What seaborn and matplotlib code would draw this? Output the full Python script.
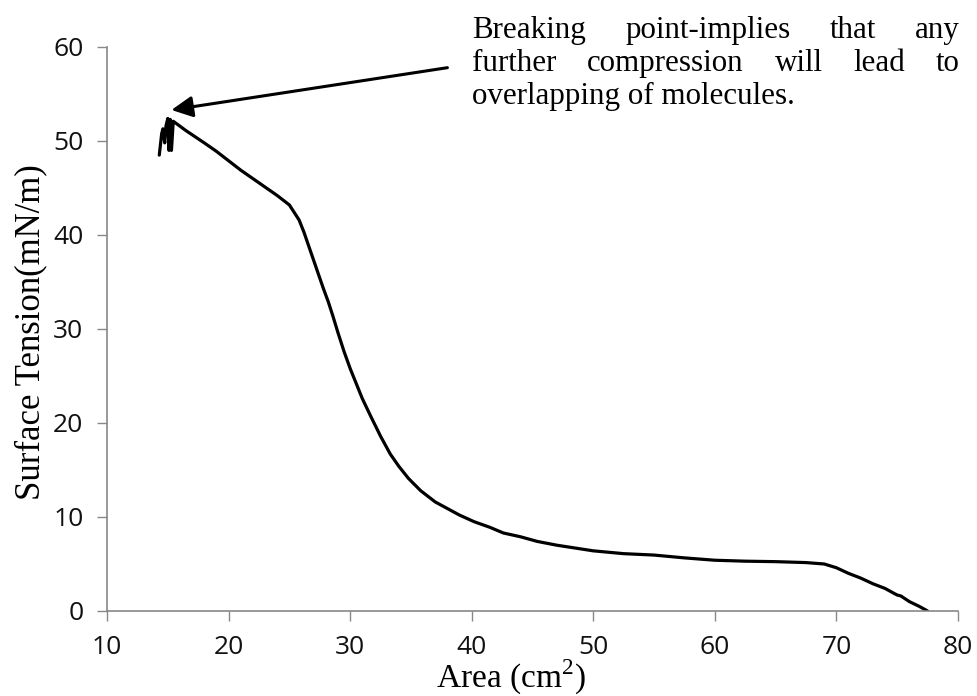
import numpy as np
import pandas as pd
import matplotlib
matplotlib.use("Agg")
import matplotlib.pyplot as plt
import seaborn as sns
from matplotlib import font_manager as fm

# ---- data ----
area = [14.3, 14.5, 14.6, 14.75, 14.85, 15.0, 15.1, 15.2, 15.3, 15.45, 16.5, 18.0, 19.0,
        20.0, 21.0, 22.0, 23.0, 24.0, 24.6, 25.0, 25.4, 25.8, 26.2, 26.6, 27.0, 27.4,
        27.8, 28.2, 28.6, 29.0, 29.5, 30.0, 30.5, 31.0, 31.7, 32.5, 33.3, 34.0, 34.8,
        35.8, 37.0, 38.0, 39.0, 40.2, 41.5, 42.6, 44.0, 45.4, 47.0, 48.5, 50.0, 52.5,
        55.0, 57.5, 60.0, 62.5, 65.0, 67.5, 69.0, 70.0, 71.0, 72.0, 73.0, 74.0, 74.7,
        75.0, 75.3, 76.0, 76.8, 77.5]
tension = [48.5, 50.8, 51.3, 49.8, 51.6, 52.4, 49.0, 52.3, 49.0, 52.1, 51.1, 49.8, 48.9,
           47.9, 46.9, 46.0, 45.1, 44.2, 43.6, 43.2, 42.4, 41.6, 40.3, 38.8, 37.3, 35.8,
           34.3, 32.9, 31.3, 29.6, 27.6, 25.8, 24.2, 22.6, 20.7, 18.6, 16.7, 15.4, 14.1,
           12.8, 11.6, 10.9, 10.2, 9.5, 8.9, 8.3, 7.9, 7.4, 7.0, 6.7, 6.4, 6.1,
           5.95, 5.65, 5.4, 5.3, 5.25, 5.15, 5.0, 4.6, 4.0, 3.5, 2.9, 2.4, 1.9,
           1.7, 1.6, 1.0, 0.5, 0.0]
x_ticks = [10, 20, 30, 40, 50, 60, 70, 80]
y_ticks = [0, 10, 20, 30, 40, 50, 60]
annotation_lines = ["Breaking point-implies that any",
                    "further compression will lead to",
                    "overlapping of molecules."]
x_label = "Area (cm$^{2}$)"
y_label = "Surface Tension(mN/m)"

sns.set_theme(style="white")

def pick(fams):
    avail = {f.name for f in fm.fontManager.ttflist}
    for f in fams:
        if f in avail:
            return f
    return "DejaVu Sans"

tick_font = pick(["Liberation Sans Narrow", "Open Sans", "Liberation Sans"])
serif_font = pick(["Liberation Serif", "DejaVu Serif"])
plt.rcParams["font.family"] = [tick_font, "DejaVu Sans"]
plt.rcParams["mathtext.fontset"] = "custom"
plt.rcParams["mathtext.rm"] = serif_font

fig = plt.figure(figsize=(9.77, 6.96), dpi=100)
ax = fig.add_axes([107 / 977, 1 - 611 / 696, (958 - 107) / 977, (611 - 47) / 696])

df = pd.DataFrame({"Area": area, "Tension": tension})
sns.lineplot(data=df, x="Area", y="Tension", sort=False, estimator=None,
             color="black", lw=2.3, ax=ax)

ax.set_xlim(10, 80)
ax.set_ylim(0, 60)
ax.set_xticks(x_ticks)
ax.set_yticks(y_ticks)
ax.tick_params(axis="both", which="major", direction="out", length=7, width=1,
               color="#888888", labelsize=19, labelcolor="#111111", pad=10,
               bottom=True, left=True)
for s in ["top", "right"]:
    ax.spines[s].set_visible(False)
for s in ["left", "bottom"]:
    ax.spines[s].set_color("#888888")
    ax.spines[s].set_linewidth(1.2)
ax.grid(False)

ax.set_xlabel(x_label, family=serif_font, fontsize=24, color="black")
ax.set_ylabel(y_label, family=serif_font, fontsize=25, color="black")
ax.xaxis.set_label_coords((511 - 107) / 851, -(658 - 611) / 564)
ax.yaxis.set_label_coords((47 - 107) / 851, (611 - 332) / 564)

# arrow
ax.annotate("", xy=(15.3, 53.3), xytext=(38.0, 57.8), xycoords="data",
            arrowprops=dict(arrowstyle="-|>", color="black", lw=2.2,
                            mutation_scale=32, shrinkA=0, shrinkB=0),
            annotation_clip=False)

# annotation text, first two lines justified
fig.canvas.draw()
renderer = fig.canvas.get_renderer()
x0_px, x1_px = 472, 960
baselines_px = [38, 71, 104]
H = 696
for i, line in enumerate(annotation_lines):
    ypx = H - baselines_px[i]
    if i < 2:
        words = line.split(" ")
        texts = []
        widths = []
        for w in words:
            t = fig.text(0, 0, w, family=serif_font, fontsize=22.3, va="baseline",
                         ha="left", color="black")
            bb = t.get_window_extent(renderer)
            widths.append(bb.width)
            texts.append(t)
        gap = (x1_px - x0_px - sum(widths)) / (len(words) - 1)
        cur = x0_px
        for t, wdt in zip(texts, widths):
            t.set_position((cur / 977, ypx / H))
            cur += wdt + gap
    else:
        fig.text(x0_px / 977, ypx / H, line, family=serif_font, fontsize=22.3,
                 va="baseline", ha="left", color="black")

fig.savefig("out.png", dpi=100)
